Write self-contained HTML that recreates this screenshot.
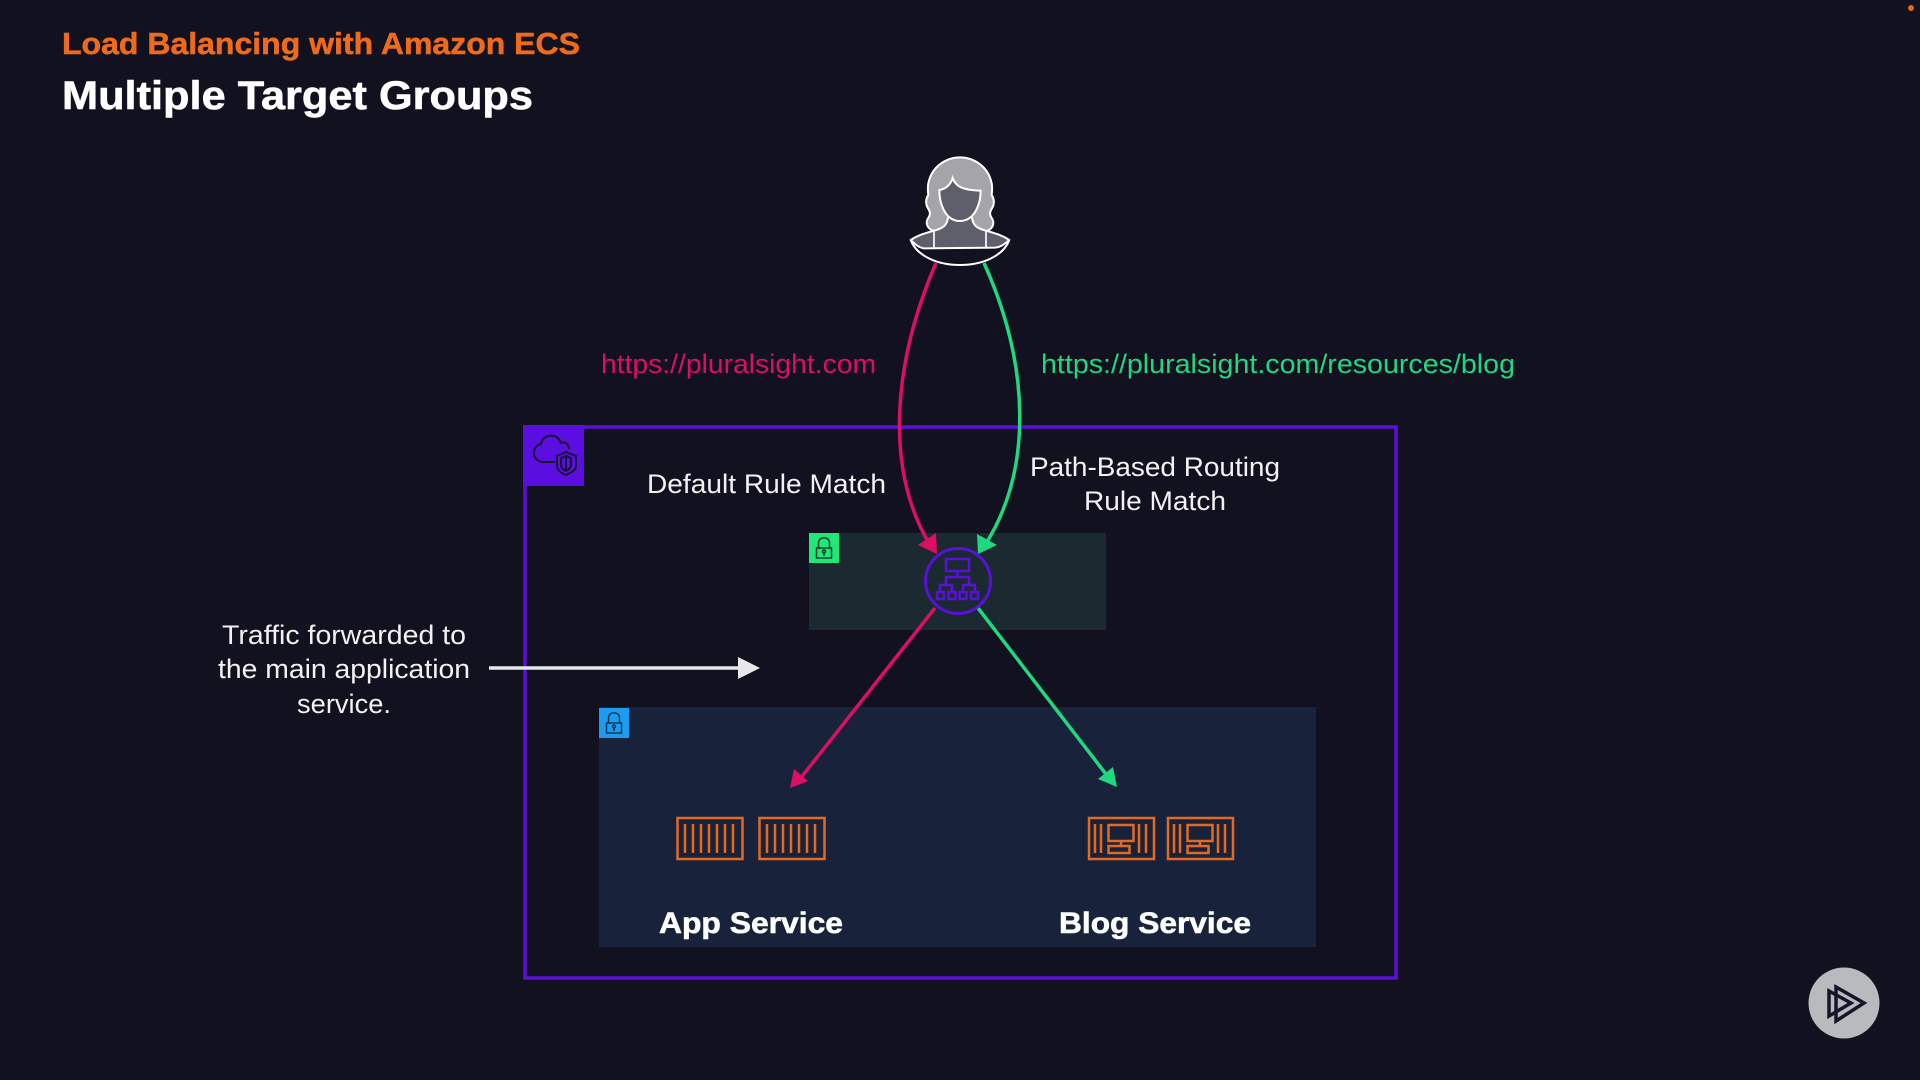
<!DOCTYPE html>
<html><head><meta charset="utf-8"><style>
html,body{margin:0;padding:0;background:#12111f;width:1920px;height:1080px;overflow:hidden}
svg{display:block}
text{font-family:"Liberation Sans",sans-serif}
</style></head><body>
<svg width="1920" height="1080" viewBox="0 0 1920 1080" xmlns="http://www.w3.org/2000/svg">
<rect width="1920" height="1080" fill="#12111f"/>
<circle cx="1911" cy="8" r="3" fill="#e0661c"/>
<text x="62" y="54" font-size="31" font-weight="700" fill="#ee6b1a" stroke="#ee6b1a" stroke-width=".5" textLength="518" lengthAdjust="spacingAndGlyphs">Load Balancing with Amazon ECS</text>
<text x="62" y="109" font-size="40" font-weight="700" fill="#ffffff" stroke="#ffffff" stroke-width=".6" textLength="471" lengthAdjust="spacingAndGlyphs">Multiple Target Groups</text>

<rect x="525" y="427" width="871" height="551" fill="none" stroke="#5a10d8" stroke-width="3.5"/>
<rect x="523" y="425" width="61" height="61" fill="#5a0fe0"/>
<g fill="none" stroke="#1a1135" stroke-width="2">
<path d="M555 462 H544 C531 462 531 446 541 444 C543 433 558 433 561 443 C566 441 569 445 569 449"/>
<path d="M566 452 L557 456 V466 C557 470 561 473 566 475 C571 473 576 470 576 466 V456 Z"/>
<path d="M566 456 L561 458 V465 C561 468 564 470 566 471 C568 470 571 468 571 465 V458 Z"/>
<path d="M566 456 V471"/>
</g>

<rect x="809" y="533" width="297" height="97" fill="#1a2a30"/>
<rect x="809" y="533" width="30" height="30" fill="#1fe874"/>
<g fill="none" stroke="#0f3f38" stroke-width="1.5">
<rect x="816.500" y="548" width="15" height="10"/>
<path d="M818.500 548 V543 C818.500 536 829.500 536 829.500 543 V548"/>
<circle cx="824" cy="551.500" r="1.500"/><path d="M824 553 V556"/>
</g>

<rect x="599" y="707" width="717" height="240" fill="#18233b"/>
<rect x="599" y="708" width="30" height="30" fill="#1b9cf0"/>
<g fill="none" stroke="#103a5e" stroke-width="1.5">
<rect x="606.500" y="723" width="15" height="10"/>
<path d="M608.500 723 V718 C608.500 711 619.500 711 619.500 718 V723"/>
<circle cx="614" cy="726.500" r="1.500"/><path d="M614 728 V731"/>
</g>

<g transform="translate(860,140) scale(.3333)">
<path d="M218 272 C198 262 196 245 206 232 C213 222 209 212 204 205 C195 190 198 175 205 165 C203 150 203 140 205 130 C215 80 258 52 300 52 C342 52 385 80 395 130 C397 140 397 150 395 165 C402 175 405 190 396 205 C391 212 387 222 394 232 C404 245 402 262 384 272 L300 290 Z" fill="#a4a4aa" stroke="#fff" stroke-width="6"/>
<path d="M264 232 C262 255 250 265 222 272 L152 300 L190 325 H410 L448 300 L378 272 C350 265 338 255 336 232 C318 248 282 248 264 232 Z" fill="#5f5f6b"/>
<path d="M278 114 C285 135 300 150 362 152 C362 190 345 243 300 243 C255 243 238 190 238 150 C255 148 272 135 278 114 Z" fill="#5f5f6b" stroke="#fff" stroke-width="6"/>
<path d="M152 300 C175 285 195 280 222 272 C250 265 262 255 264 232 M336 232 C338 255 350 265 378 272 C405 280 425 285 448 300" fill="none" stroke="#fff" stroke-width="6"/>
<path d="M222 272 V322 M378 272 V322" stroke="#fff" stroke-width="5" fill="none"/>
<path d="M152 300 C190 400 410 400 448 300 C430 315 420 322 405 323 L190 325 C175 322 165 312 152 300 Z" fill="#12111f" stroke="#fff" stroke-width="6" stroke-linejoin="round"/>
</g>

<g fill="none" stroke-width="3.5">
<path d="M936 263 C892 365 885 470 930 545" stroke="#dc0f64"/>
<path d="M984 263 C1030 365 1033 470 985 545" stroke="#1fd880"/>
<path d="M935 608 L796 784" stroke="#dc0f64"/>
<path d="M978 608 L1112 782" stroke="#1fd880"/>
</g>
<polygon points="937,554 918,545 936,533" fill="#dc0f64"/>
<polygon points="978,554 977,534 997,545" fill="#1fd880"/>
<polygon points="790,788 794,769 808,781" fill="#dc0f64"/>
<polygon points="1117,787 1098,779 1113,767" fill="#1fd880"/>

<circle cx="958" cy="581" r="32.500" fill="#1a2a30" stroke="#5a10d8" stroke-width="3"/>
<g fill="none" stroke="#5a10d8" stroke-width="2.500">
<rect x="946" y="559" width="23" height="12"/>
<path d="M957.500 571 V577 M946 585 V577 H969 V585"/>
<path d="M940 592 V585 H952 V592 M963 592 V585 H975 V592"/>
<rect x="937" y="592" width="7" height="7"/><rect x="948.500" y="592" width="7" height="7"/>
<rect x="959.500" y="592" width="7" height="7"/><rect x="971" y="592" width="7" height="7"/>
</g>

<g fill="none" stroke="#e36a20" stroke-width="2.500">
<g id="app1">
<rect x="677.500" y="818" width="65" height="41"/>
<path d="M685 824 V853 M693 824 V853 M701 824 V853 M709 824 V853 M717 824 V853 M725 824 V853 M733 824 V853"/>
</g>
<g transform="translate(82,0)">
<rect x="677.500" y="818" width="65" height="41"/>
<path d="M685 824 V853 M693 824 V853 M701 824 V853 M709 824 V853 M717 824 V853 M725 824 V853 M733 824 V853"/>
</g>
<g id="blog1">
<rect x="1089" y="818" width="65" height="41"/>
<path d="M1095 824 V853 M1101 824 V853 M1139 824 V853 M1146 824 V853"/>
<rect x="1108.500" y="825" width="25" height="16"/>
<path d="M1121 841 V846"/>
<rect x="1108.500" y="846" width="21" height="7"/>
</g>
<g transform="translate(79,0)">
<rect x="1089" y="818" width="65" height="41"/>
<path d="M1095 824 V853 M1101 824 V853 M1139 824 V853 M1146 824 V853"/>
<rect x="1108.500" y="825" width="25" height="16"/>
<path d="M1121 841 V846"/>
<rect x="1108.500" y="846" width="21" height="7"/>
</g>
</g>

<text x="659" y="933" font-size="30" font-weight="700" fill="#fff" stroke="#fff" stroke-width=".6" textLength="184" lengthAdjust="spacingAndGlyphs">App Service</text>
<text x="1059" y="933" font-size="30" font-weight="700" fill="#fff" stroke="#fff" stroke-width=".6" textLength="192" lengthAdjust="spacingAndGlyphs">Blog Service</text>

<text x="601" y="373" font-size="27" fill="#dc0f64" textLength="275" lengthAdjust="spacingAndGlyphs">https://pluralsight.com</text>
<text x="1041" y="373" font-size="27" fill="#1fd880" textLength="474" lengthAdjust="spacingAndGlyphs">https://pluralsight.com/resources/blog</text>
<text x="647" y="493" font-size="27" fill="#f2f2f2" textLength="239" lengthAdjust="spacingAndGlyphs">Default Rule Match</text>
<text x="1030" y="476" font-size="27" fill="#f2f2f2" textLength="250" lengthAdjust="spacingAndGlyphs">Path-Based Routing</text>
<text x="1084" y="510" font-size="27" fill="#f2f2f2" textLength="142" lengthAdjust="spacingAndGlyphs">Rule Match</text>
<text x="222" y="644" font-size="27" fill="#f2f2f2" textLength="244" lengthAdjust="spacingAndGlyphs">Traffic forwarded to</text>
<text x="218" y="678" font-size="27" fill="#f2f2f2" textLength="252" lengthAdjust="spacingAndGlyphs">the main application</text>
<text x="297" y="713" font-size="27" fill="#f2f2f2" textLength="94" lengthAdjust="spacingAndGlyphs">service.</text>

<path d="M489 668 H742" stroke="#e8e8e8" stroke-width="3.500"/>
<polygon points="760,668 738,657 738,679" fill="#e8e8e8"/>

<circle cx="1844" cy="1003" r="35.500" fill="#b9babd"/>
<g fill="none" stroke="#15152a" stroke-width="3.500">
<polygon points="1836,987 1864,1003 1836,1021"/>
<polygon points="1829,991 1851,1003 1829,1016"/>
</g>
</svg>
</body></html>
